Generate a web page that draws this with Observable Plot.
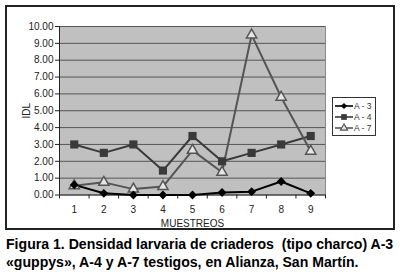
<!DOCTYPE html>
<html><head><meta charset="utf-8">
<script src="https://cdn.jsdelivr.net/npm/d3@7"></script>
<script src="https://cdn.jsdelivr.net/npm/@observablehq/plot@0.6"></script>
<style>
body{margin:0;background:#fff;font-family:"Liberation Sans",Arial,sans-serif;}
#wrap{position:relative;width:400px;height:278px;overflow:hidden;}
#frame{position:absolute;left:5px;top:5px;width:386px;height:221px;border:2px solid #222;pointer-events:none;}
#legend{position:absolute;left:332px;top:97px;width:42px;height:37px;border:1px solid #333;background:#fff;}
#caption{position:absolute;left:6px;top:235px;font-weight:bold;font-size:14.1px;line-height:18px;color:#000;white-space:nowrap;}
</style></head>
<body><div id="wrap"><div id="chart"></div><div id="frame"></div><div id="legend"></div>
<div id="caption">Figura 1. Densidad larvaria de criaderos&nbsp; (tipo charco) A-3<br>«guppys», A-4 y A-7 testigos, en Alianza, San Martín.</div></div>
<script>
const muestreos = [1,2,3,4,5,6,7,8,9];
const a3 = [0.6,0.1,0,0,0,0.15,0.2,0.8,0.1];
const a4 = [3.0,2.5,3.0,1.45,3.5,2.0,2.5,3.0,3.5];
const a7 = [0.55,0.75,0.35,0.5,2.65,1.35,9.5,5.8,2.6];
const seriesNames = ["A - 3","A - 4","A - 7"];
const yTicks = [0,1,2,3,4,5,6,7,8,9,10];

const rows = (vals, s) => muestreos.map((m,i)=>({m, v: vals[i], s}));
const d3rows = rows(a3, seriesNames[0]);
const d4rows = rows(a4, seriesNames[1]);
const d7rows = rows(a7, seriesNames[2]);

const styles = {
  "A - 3": {stroke:"#000", symbol:"diamond2", fill:"#000", r:4},
  "A - 4": {stroke:"#3a3a3a", symbol:"square", fill:"#3a3a3a", r:4.6},
  "A - 7": {stroke:"#555", symbol:"triangle", fill:"#e6e6e6", r:3.8}
};

const chart = Plot.plot({
  width: 400, height: 230,
  marginLeft: 59, marginRight: 75, marginTop: 26, marginBottom: 35.5,
  style: {fontFamily: "'Liberation Sans', Arial, sans-serif", fontSize: "10px", color:"#222", background:"transparent"},
  x: {type:"linear", domain:[0.5, 9.5]},
  y: {domain:[0,10]},
  marks: [
    Plot.frame({fill:"#c0c0c0", stroke:"#8a8a8a"}),
    Plot.ruleY(yTicks.slice(1), {stroke:"#555", strokeWidth:1}),
    Plot.axisY({ticks: yTicks, tickFormat: d => d.toFixed(2), tickSize: 4, tickPadding: 2, label: "IDL", labelAnchor:"center", labelArrow:"none", labelOffset: 37, stroke:"#222"}),
    Plot.axisX({ticks: d3.range(0.5, 10, 1), tickFormat: () => "", tickSize: 4, label: null, stroke:"#222"}),
    Plot.axisX({ticks: muestreos, tickSize: 0, tickPadding: 11, tickFormat: d => d, label: "MUESTREOS", labelAnchor:"center", labelArrow:"none", labelOffset: 32}),
    Plot.ruleX([0.5], {stroke:"#222", strokeWidth:1}),
    Plot.ruleY([0], {stroke:"#222", strokeWidth:1}),
    Plot.line(d4rows, {x:"m", y:"v", stroke: styles["A - 4"].stroke, strokeWidth: 2}),
    Plot.line(d7rows, {x:"m", y:"v", stroke: styles["A - 7"].stroke, strokeWidth: 2}),
    Plot.line(d3rows, {x:"m", y:"v", stroke: styles["A - 3"].stroke, strokeWidth: 2}),
    Plot.dot(d4rows, {x:"m", y:"v", symbol: "square", fill: styles["A - 4"].fill, r: styles["A - 4"].r}),
    Plot.dot(d7rows, {x:"m", y:"v", symbol: "triangle", fill: styles["A - 7"].fill, stroke: styles["A - 7"].stroke, strokeWidth:1.5, r: styles["A - 7"].r}),
    Plot.dot(d3rows, {x:"m", y:"v", symbol: "diamond2", fill: styles["A - 3"].fill, r: styles["A - 3"].r})
  ]
});
document.getElementById("chart").appendChild(chart);

// legend
const leg = d3.select("#legend").append("svg").attr("width", 42).attr("height", 37);
const symMap = {diamond2: d3.symbolDiamond2, square: d3.symbolSquare, triangle: d3.symbolTriangle};
seriesNames.forEach((n, i) => {
  const st = styles[n];
  const y = 8 + i * 11;
  const g = leg.append("g");
  g.append("line").attr("x1", 2).attr("x2", 20).attr("y1", y).attr("y2", y).attr("stroke", st.stroke).attr("stroke-width", 1.6);
  g.append("path").attr("d", d3.symbol(symMap[st.symbol], Math.PI * (st.r*0.7) ** 2)()).attr("transform", `translate(11,${y})`)
    .attr("fill", st.fill).attr("stroke", n === "A - 7" ? st.stroke : "none").attr("stroke-width", 1.2);
  g.append("text").attr("x", 21).attr("y", y + 3).attr("font-size", 8.5).attr("fill", "#333")
    .attr("font-family", "'Liberation Sans', Arial, sans-serif").text(n);
});
</script></body></html>
